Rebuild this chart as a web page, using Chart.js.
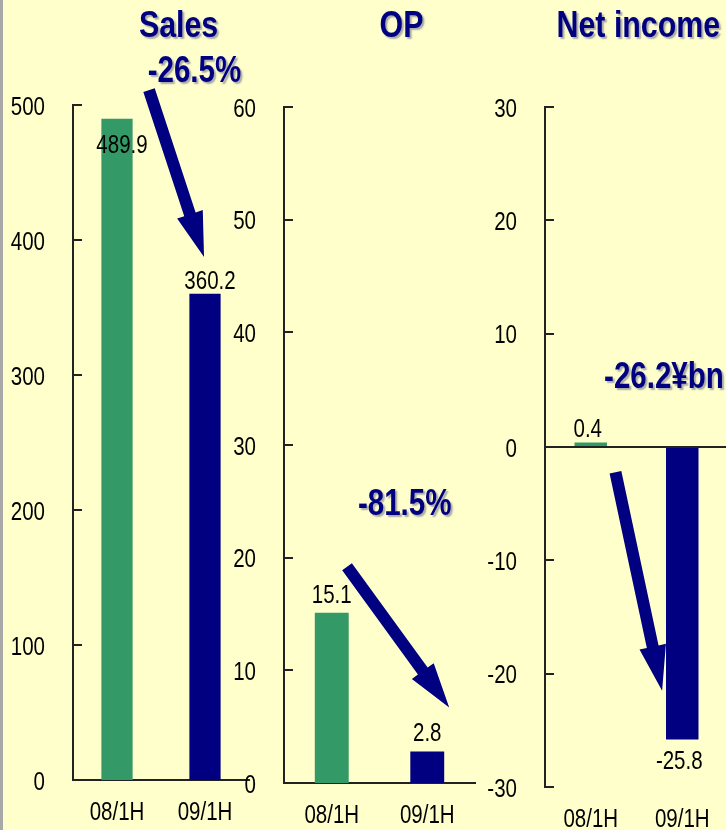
<!DOCTYPE html>
<html>
<head>
<meta charset="utf-8">
<script src="https://cdn.jsdelivr.net/npm/chart.js@4/dist/chart.umd.min.js"></script>
<style>
  html, body { margin: 0; padding: 0; width: 726px; height: 830px; overflow: hidden; background: #ffffcc; }
  #frame { position: absolute; left: 0; top: 0; width: 726px; height: 830px; border-left: 3px solid #a8a8a8; box-sizing: border-box; }
  .panel { position: absolute; top: 0; }
</style>
</head>
<body>
<div id="frame"></div>
<div class="panel" style="left:0px"><canvas id="sales" width="260" height="830"></canvas></div>
<div class="panel" style="left:230px"><canvas id="op" width="260" height="830"></canvas></div>
<div class="panel" style="left:470px"><canvas id="netIncome" width="260" height="830"></canvas></div>

<script>
// Half-year results, ¥bn
const periods = ['08/1H', '09/1H'];
const salesValues = [489.9, 360.2];
const opValues = [15.1, 2.8];
const netIncomeValues = [0.4, -25.8];

const salesTicks = [0, 100, 200, 300, 400, 500];
const opTicks = [0, 10, 20, 30, 40, 50, 60];
const netIncomeTicks = [-30, -20, -10, 0, 10, 20, 30];

const panelTitles = ['Sales', 'OP', 'Net income'];
const changeLabels = ['-26.5%', '-81.5%', '-26.2¥bn'];

const barColors = ['#339966', '#000080'];
const NAVY = '#000080';
const AXIS = '#222222';
const FONT = '"Liberation Sans", Arial, sans-serif';
const NARROW = 0.82;   // horizontal squeeze giving a narrow face

// Layout of each panel: canvas size, plot box (canvas px) and where the
// headline, change note and arrow sit, given as [category index, axis value].
const panels = [
  {
    id: 'sales', values: salesValues, ticks: salesTicks, title: panelTitles[0], change: changeLabels[0],
    canvasW: 260, axisW: 73, right: 249, top: 105, bottom: 780, zeroLine: false, xBorder: true,
    titleAt: [0.70, 550.4], changeAt: [0.88, 517], arrow: [[0.364, 511], [0.989, 387.4]],
    labelGap: 5, labelDx: 5
  },
  {
    id: 'op', values: opValues, ticks: opTicks, title: panelTitles[1], change: changeLabels[1],
    canvasW: 260, axisW: 54, right: 245, top: 107, bottom: 783, zeroLine: false, xBorder: true,
    titleAt: [0.73, 66.2], changeAt: [0.764, 23.8], arrow: [[0.16, 19.2], [1.23, 6.7]],
    labelGap: 10, labelDx: 0
  },
  {
    id: 'netIncome', values: netIncomeValues, ticks: netIncomeTicks, title: panelTitles[2], change: changeLabels[2],
    canvasW: 260, axisW: 75, right: 258, top: 107, bottom: 787, zeroLine: true, xBorder: false,
    titleAt: [0.52, 36.15], changeAt: [0.80, 5.18], arrow: [[0.27, -2.23], [0.78, -21.5]],
    labelGap: 5, labelDx: -3
  }
];

function narrowText(ctx, text, x, y, align) {
  ctx.save();
  ctx.translate(x, y);
  ctx.scale(NARROW, 1);
  ctx.textAlign = align;
  ctx.textBaseline = 'alphabetic';
  ctx.fillText(text, 0, 0);
  ctx.restore();
}

function drawArrow(ctx, tail, tip, shaftW, headW, headLen) {
  const dx = tip[0] - tail[0], dy = tip[1] - tail[1];
  const len = Math.hypot(dx, dy);
  const ux = dx / len, uy = dy / len;
  const nx = -uy, ny = ux;
  const bx = tip[0] - ux * headLen, by = tip[1] - uy * headLen;
  ctx.beginPath();
  ctx.moveTo(tail[0] + nx * shaftW / 2, tail[1] + ny * shaftW / 2);
  ctx.lineTo(bx + nx * shaftW / 2, by + ny * shaftW / 2);
  ctx.lineTo(bx + nx * headW / 2, by + ny * headW / 2);
  ctx.lineTo(tip[0], tip[1]);
  ctx.lineTo(bx - nx * headW / 2, by - ny * headW / 2);
  ctx.lineTo(bx - nx * shaftW / 2, by - ny * shaftW / 2);
  ctx.lineTo(tail[0] - nx * shaftW / 2, tail[1] - ny * shaftW / 2);
  ctx.closePath();
  ctx.fillStyle = NAVY;
  ctx.fill();
}

// Inward tick marks, axis labels, value labels, arrow and headline text
const overlay = {
  id: 'overlay',
  afterDatasetsDraw(chart, args, p) {
    const { ctx, chartArea } = chart;
    const xs = chart.scales.x, ys = chart.scales.y;
    const at = (pt) => [xs.getPixelForValue(pt[0]), ys.getPixelForValue(pt[1])];
    ctx.save();

    ctx.strokeStyle = AXIS;
    ctx.lineWidth = 2;
    ys.ticks.forEach(t => {
      const py = Math.round(ys.getPixelForValue(t.value));
      ctx.beginPath();
      ctx.moveTo(chartArea.left, py);
      ctx.lineTo(chartArea.left + 9, py);
      ctx.stroke();
    });

    ctx.font = '25px ' + FONT;
    ctx.fillStyle = '#000';
    ys.ticks.forEach(t => {
      const py = ys.getPixelForValue(t.value);
      narrowText(ctx, t.label != null ? String(t.label) : String(t.value), chartArea.left - 28, py + 9.5, 'right');
    });
    xs.getLabels().forEach((lab, i) => {
      narrowText(ctx, lab, xs.getPixelForValue(i), chartArea.bottom + 40, 'center');
    });

    chart.getDatasetMeta(0).data.forEach((bar, i) => {
      const v = chart.data.datasets[0].data[i];
      let yb;
      if (v >= 0) {
        yb = bar.y - p.labelGap;
        if (yb - 20 < chartArea.top) yb = bar.y + 34;
      } else {
        yb = bar.y + 30;
      }
      narrowText(ctx, v.toFixed(1), bar.x + p.labelDx, yb, 'center');
    });

    drawArrow(ctx, at(p.arrow[0]), at(p.arrow[1]), 12, 27, 45);

    ctx.shadowColor = 'rgba(100,100,140,0.55)';
    ctx.shadowOffsetX = 2;
    ctx.shadowOffsetY = 2;
    ctx.shadowBlur = 1.5;
    ctx.fillStyle = NAVY;
    ctx.font = 'bold 37px ' + FONT;
    const t = at(p.titleAt);
    narrowText(ctx, p.title, t[0], t[1], 'center');
    ctx.font = 'bold 36px ' + FONT;
    const c = at(p.changeAt);
    narrowText(ctx, p.change, c[0], c[1], 'center');
    ctx.restore();
  }
};

panels.forEach(p => {
  new Chart(document.getElementById(p.id), {
    type: 'bar',
    data: {
      labels: periods,
      datasets: [{
        data: p.values,
        backgroundColor: barColors,
        borderWidth: 0,
        categoryPercentage: 1,
        barPercentage: 0.355
      }]
    },
    options: {
      responsive: false,
      animation: false,
      events: [],
      layout: { autoPadding: false, padding: { top: p.top, right: p.canvasW - p.right, left: 0, bottom: 0 } },
      plugins: { legend: { display: false }, tooltip: { enabled: false }, overlay: p },
      scales: {
        x: {
          grid: { display: false, drawTicks: false },
          border: { display: p.xBorder, color: AXIS, width: 2 },
          ticks: { display: false },
          afterFit: s => { s.height = 830 - p.bottom; }
        },
        y: {
          min: p.ticks[0],
          max: p.ticks[p.ticks.length - 1],
          grid: {
            display: p.zeroLine,
            drawTicks: false,
            lineWidth: 2,
            color: c => (c.tick && c.tick.value === 0 ? AXIS : 'rgba(0,0,0,0)')
          },
          border: { display: true, color: AXIS, width: 2 },
          ticks: { display: false },
          afterBuildTicks: s => { s.ticks = p.ticks.map(v => ({ value: v })); },
          afterFit: s => { s.width = p.axisW; }
        }
      }
    },
    plugins: [overlay]
  });
});
</script>
</body>
</html>
